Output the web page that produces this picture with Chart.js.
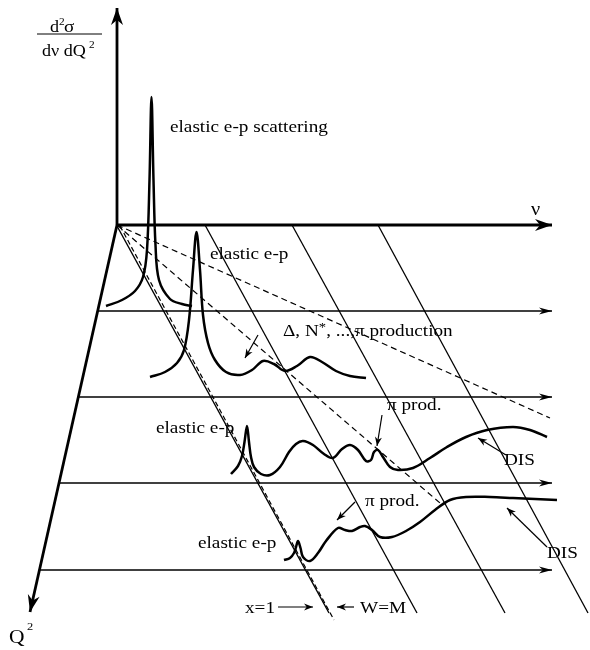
<!DOCTYPE html>
<html>
<head>
<meta charset="utf-8">
<script src="https://cdn.jsdelivr.net/npm/chart.js@4"></script>
<style>
  html, body { margin: 0; padding: 0; background: #fff; }
  #wrap { width: 590px; height: 650px; }
</style>
</head>
<body>
<div id="wrap"><canvas id="c" width="590" height="650"></canvas></div>
<script>
// diagram coordinates: x to the right, y downward (0..590, 0..650)
const crossSectionAxis = [[117, 225], [117, 8]];
const nuAxis = [[117, 225], [552, 225]];
const q2Axis = [[117, 225], [30, 612]];

const gridRowY = [311, 397, 483, 570];
const gridRowStart = [97.7, 78.3, 59, 39.4];
const gridRowEnd = 552;

const fixedWLines = [
    [[205, 225], [417, 613]],
    [[292, 225], [505, 613]],
    [[378, 225], [588, 613]]
];
const xEqualsOne = [[117, 226], [329, 613]];
const wEqualsM = [[120, 226], [334, 620]];
const dashedA = [[117, 225], [550, 418]];
const dashedB = [[117, 225], [440, 503]];

const curveTop = [[106, 306], [122, 300], [135, 291], [143, 277], [147, 250], [149.5, 180], [151.5, 97],
    [153.5, 180], [155.5, 245], [159, 280], [170, 299], [182, 304], [192, 306]];
const curveSecond = [[150, 377], [165, 372], [177, 363], [184, 350], [189, 320], [193, 270], [196.5, 232],
    [200, 270], [203, 315], [208, 343], [215, 360], [226, 372], [240, 375], [252, 370], [263, 361],
    [274, 364], [285, 371], [297, 366], [310, 357], [322, 362], [336, 371], [350, 376], [366, 378]];
const curveThird = [[231, 474], [238, 466], [242, 456], [244.5, 442], [247, 426], [249, 442], [251, 457],
    [254, 467], [261, 474], [270, 475], [280, 467], [289, 452], [296, 444], [303, 441], [313, 445],
    [324, 454], [333, 458], [342, 449], [350, 445], [358, 450], [366, 461], [371, 460], [374, 452],
    [378, 450], [383, 457], [390, 467], [398, 470], [413, 468], [430, 458], [447, 447], [466, 437],
    [487, 430], [513, 427], [530, 430], [547, 437]];
const curveBottom = [[284, 560], [290, 558], [294, 553], [296, 547], [298, 541], [300.5, 548], [303, 557],
    [310, 561], [318, 553], [326, 541], [338, 528], [345, 530], [352, 531], [360, 527], [365, 526],
    [372, 530], [380, 537], [392, 537], [406, 531], [420, 522], [435, 510], [450, 500], [466, 497],
    [490, 497], [513, 498], [535, 499], [557, 500]];

const pointerArrows = [
    [[258, 335], [245, 358]],
    [[382, 415], [377, 446]],
    [[506, 455], [478, 438]],
    [[355, 502], [337, 520]],
    [[547, 547], [507, 508]],
    [[278, 607], [313, 607]],
    [[354, 607], [337, 607]]
];

const labelText = ['elastic e-p scattering', 'elastic e-p', '\u03c0 prod.', 'elastic e-p', 'DIS',
    '\u03c0 prod.', 'elastic e-p', 'DIS', 'x=1', 'W=M'];
const labelPos = [[170, 132], [210, 259], [387, 410], [156, 433], [504, 465], [365, 506],
    [198, 548], [547, 558], [245, 613], [360, 613]];

const SERIF = '"Liberation Serif", "DejaVu Serif", serif';
const STRETCH = 1.13;

const pts = arr => arr.map(p => ({ x: p[0], y: p[1] }));

function line(arr, width, extra) {
    return Object.assign({
        data: pts(arr),
        showLine: true,
        borderColor: '#000',
        backgroundColor: '#000',
        borderWidth: width,
        pointRadius: 0,
        tension: 0,
        fill: false
    }, extra || {});
}

const datasets = [];
datasets.push(line(crossSectionAxis, 2.8, { arrow: 'axis' }));
datasets.push(line(nuAxis, 2.8, { arrow: 'axis' }));
datasets.push(line(q2Axis, 2.8, { arrow: 'axis' }));
gridRowY.forEach((y, i) => {
    datasets.push(line([[gridRowStart[i], y], [gridRowEnd, y]], 1.5, { arrow: 'thin' }));
});
fixedWLines.forEach(l => datasets.push(line(l, 1.3)));
datasets.push(line(xEqualsOne, 1.4));
datasets.push(line(wEqualsM, 1.2, { borderDash: [5, 3] }));
datasets.push(line(dashedA, 1.2, { borderDash: [6, 4] }));
datasets.push(line(dashedB, 1.2, { borderDash: [6, 4] }));
[curveTop, curveSecond, curveThird, curveBottom].forEach(c => {
    datasets.push(line(c, 2.5, { tension: 0.35 }));
});
pointerArrows.forEach(a => datasets.push(line(a, 1.2, { arrow: 'pointer' })));

const arrowHeads = {
    id: 'arrowHeads',
    afterDatasetsDraw(chart) {
        const ctx = chart.ctx;
        chart.data.datasets.forEach((ds, i) => {
            if (!ds.arrow) return;
            const el = chart.getDatasetMeta(i).data;
            const a = el[el.length - 2], b = el[el.length - 1];
            const ang = Math.atan2(b.y - a.y, b.x - a.x);
            const len = ds.arrow === 'axis' ? 17 : (ds.arrow === 'thin' ? 13 : 9);
            const half = ds.arrow === 'axis' ? 6 : 3.5;
            ctx.save();
            ctx.translate(b.x, b.y);
            ctx.rotate(ang);
            ctx.fillStyle = '#000';
            ctx.beginPath();
            ctx.moveTo(0, 0);
            ctx.lineTo(-len, -half);
            ctx.lineTo(-len * 0.7, 0);
            ctx.lineTo(-len, half);
            ctx.closePath();
            ctx.fill();
            ctx.restore();
        });
    }
};

function stretchedText(ctx, text, x, y, size) {
    ctx.save();
    ctx.font = size + 'px ' + SERIF;
    ctx.translate(x, y);
    ctx.scale(STRETCH, 1);
    ctx.fillText(text, 0, 0);
    const w = ctx.measureText(text).width * STRETCH;
    ctx.restore();
    return w;
}

const textLabels = {
    id: 'textLabels',
    afterDraw(chart) {
        const ctx = chart.ctx;
        const sx = chart.scales.x, sy = chart.scales.y;
        const X = v => sx.getPixelForValue(v), Y = v => sy.getPixelForValue(v);
        ctx.save();
        ctx.fillStyle = '#000';
        ctx.textBaseline = 'alphabetic';
        labelText.forEach((t, i) => {
            stretchedText(ctx, t, X(labelPos[i][0]), Y(labelPos[i][1]), 17);
        });
        // resonance label with superscript star
        let x = X(283);
        x += stretchedText(ctx, '\u0394, N', x, Y(336), 17);
        x += stretchedText(ctx, '*', x, Y(331), 13);
        stretchedText(ctx, ', ...,\u03c0 production', x, Y(336), 17);
        // nu axis label
        stretchedText(ctx, '\u03bd', X(531), Y(215), 18);
        // Q^2 axis label
        stretchedText(ctx, 'Q', X(9), Y(643), 19);
        stretchedText(ctx, '2', X(27), Y(630), 11);
        // d2sigma / dnu dQ2
        stretchedText(ctx, 'd', X(50), Y(32), 16);
        stretchedText(ctx, '2', X(59), Y(25), 10);
        stretchedText(ctx, '\u03c3', X(64), Y(32), 17);
        stretchedText(ctx, 'd\u03bd dQ', X(42), Y(56), 16);
        stretchedText(ctx, '2', X(89), Y(48), 10);
        ctx.lineWidth = 1;
        ctx.beginPath();
        ctx.moveTo(X(37), Y(34));
        ctx.lineTo(X(102), Y(34));
        ctx.stroke();
        ctx.restore();
    }
};

new Chart(document.getElementById('c'), {
    type: 'scatter',
    data: { datasets },
    options: {
        responsive: false,
        animation: false,
        events: [],
        layout: { padding: 0 },
        plugins: { legend: { display: false }, tooltip: { enabled: false } },
        scales: {
            x: { type: 'linear', min: 0, max: 590, display: false },
            y: { type: 'linear', min: 0, max: 650, reverse: true, display: false }
        }
    },
    plugins: [arrowHeads, textLabels]
});
</script>
</body>
</html>
